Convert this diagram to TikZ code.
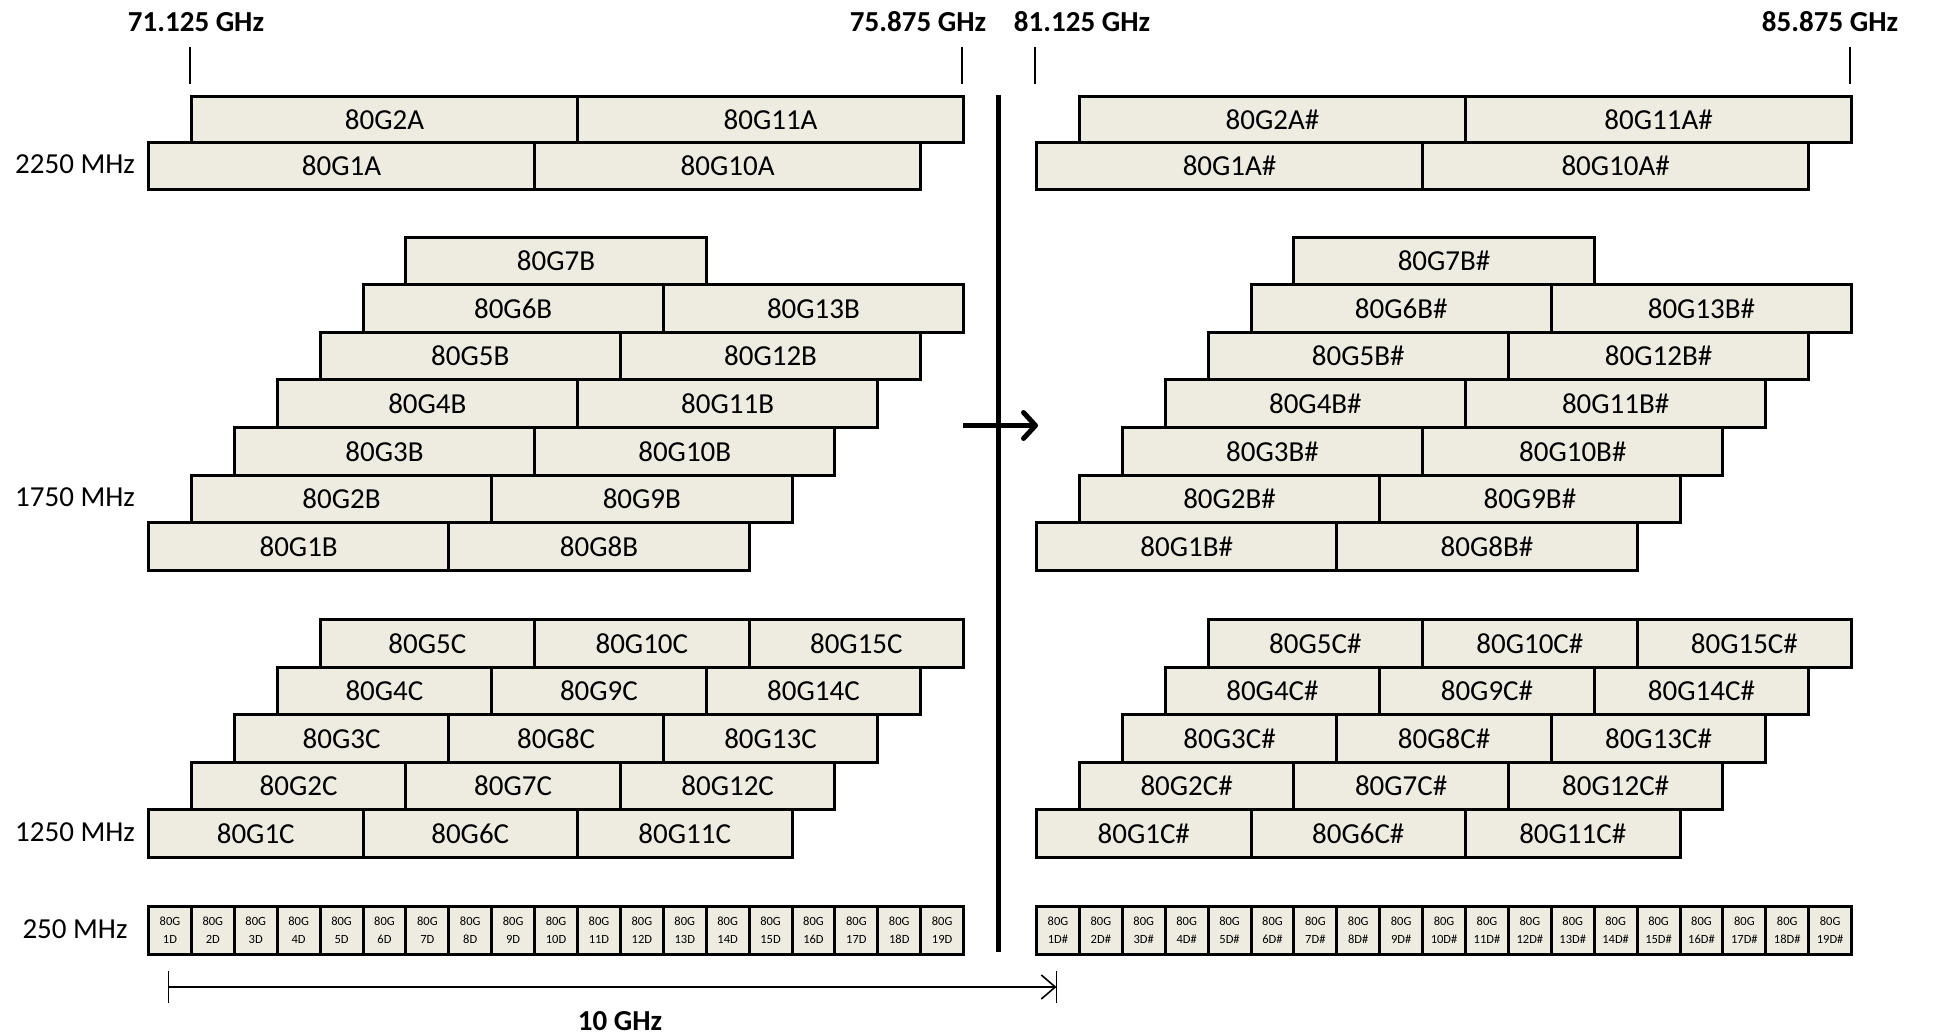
\documentclass[tikz,border=0pt]{standalone}
\usepackage{fontspec}
\setmainfont{Carlito}
\usetikzlibrary{arrows.meta}
\definecolor{boxfill}{RGB}{238,236,225}
\begin{document}
\begin{tikzpicture}[x=1pt,y=-1pt,
  band/.style={draw=black, line width=3pt, fill=boxfill, rectangle, inner sep=0pt,
    anchor=north west, minimum height=47.6pt, font=\fontsize{29}{34}\selectfont},
  bandA/.style={band, minimum width=386.1pt, minimum height=46.3pt},
  bandB/.style={band, minimum width=300.3pt},
  bandC/.style={band, minimum width=214.5pt},
  bandD/.style={band, minimum width=42.9pt, align=center, font=\fontsize{12.5}{18}\selectfont},
  rowlabel/.style={font=\fontsize{29}{34}\selectfont, inner sep=0pt},
  toplabel/.style={font=\fontsize{29}{34}\selectfont\bfseries, inner sep=0pt},
  tick/.style={line width=2pt},
  dimline/.style={line width=1.6pt}]
\useasboundingbox (0,0) rectangle (1934,1035);
\foreach \off/\suf/\nm in {0/{}/L,888/{\#}/R}{
  % 2250 MHz rows
  \foreach \r/\ytop in {1/141.3,2/95}{
    \foreach \k in {0,1}{
      \pgfmathtruncatemacro\n{\r+9*\k}
      \node[bandA, name=A\n\nm] at ({147+\off+(\r-1)*42.9+\k*386.1},\ytop) {80G\n A\suf};
    }}
  % 1750 MHz rows
  \foreach \r in {1,...,7}{
    \foreach \k in {0,1}{
      \pgfmathtruncatemacro\n{\r+7*\k}
      \ifnum\n<14
        \node[bandB, name=B\n\nm] at ({147+\off+(\r-1)*42.9+\k*300.3},{568.8-\r*47.6}) {80G\n B\suf};
      \fi
    }}
  % 1250 MHz rows
  \foreach \r in {1,...,5}{
    \foreach \k in {0,1,2}{
      \pgfmathtruncatemacro\n{\r+5*\k}
      \node[bandC, name=C\n\nm] at ({147+\off+(\r-1)*42.9+\k*214.5},{856-\r*47.6}) {80G\n C\suf};
    }}
  % 250 MHz row
  \foreach \n in {1,...,19}{
    \node[bandD, name=D\n\nm] at ({147+\off+(\n-1)*42.9},905) {80G\\\n D\suf};
  }
}
% row labels
\node[rowlabel] (l2250) at (75,164.5) {2250 MHz};
\node[rowlabel] (l1750) at (75,497.4) {1750 MHz};
\node[rowlabel] (l1250) at (75,832.2) {1250 MHz};
\node[rowlabel] (l250)  at (75,928.8) {250 MHz};
% top labels and ticks
\node[toplabel] (f1) at (196,22) {71.125 GHz};
\node[toplabel] (f2) at (918,22) {75.875 GHz};
\node[toplabel] (f3) at (1082,22) {81.125 GHz};
\node[toplabel] (f4) at (1830,22) {85.875 GHz};
\coordinate (t1a) at (190,47);  \coordinate (t1b) at (190,84);
\coordinate (t2a) at (962,47);  \coordinate (t2b) at (962,84);
\coordinate (t3a) at (1035,47); \coordinate (t3b) at (1035,84);
\coordinate (t4a) at (1850,47); \coordinate (t4b) at (1850,84);
\draw[tick] (t1a) -- (t1b);
\draw[tick] (t2a) -- (t2b);
\draw[tick] (t3a) -- (t3b);
\draw[tick] (t4a) -- (t4b);
% separator and arrow
\coordinate (sepT) at (998,95);
\coordinate (sepB) at (998,952);
\draw[line width=5pt] (sepT) -- (sepB);
\coordinate (arA) at (963,425.5);
\coordinate (arB) at (1038,425.5);
\draw[line width=5pt, -{Straight Barb[length=12pt,width=26pt,round]}] (arA) -- (arB);
% 10 GHz dimension
\coordinate (d1) at (168.5,987);
\coordinate (d2) at (1056.5,987);
\coordinate (d1a) at (168.5,971); \coordinate (d1b) at (168.5,1003);
\coordinate (d2a) at (1056.5,971); \coordinate (d2b) at (1056.5,1003);
\draw[dimline, -{Straight Barb[length=14pt,width=24pt]}] (d1) -- (d2);
\draw[dimline] (d1a) -- (d1b);
\draw[dimline] (d2a) -- (d2b);
\node[toplabel] (dimlab) at (620,1021) {10 GHz};
\end{tikzpicture}
\end{document}
